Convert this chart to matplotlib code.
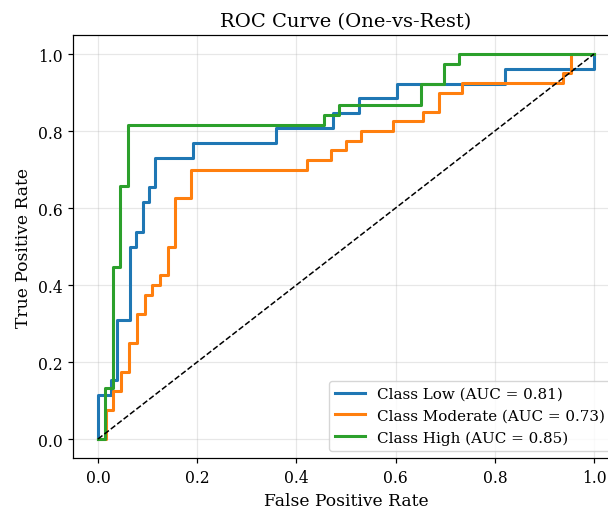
import numpy as np
import matplotlib
matplotlib.use('Agg')
from matplotlib import pyplot as plt

plt.rcParams['font.family'] = 'DejaVu Serif'

# ROC points (top of each step)
fpr_low = [0, 0, 0.026, 0.038, 0.064, 0.077, 0.090, 0.103, 0.115, 0.192, 0.359,
           0.474, 0.526, 0.603, 0.821, 1.0]
tpr_low = [0, 0.115, 0.154, 0.308, 0.500, 0.538, 0.615, 0.654, 0.731, 0.769, 0.808,
           0.846, 0.885, 0.923, 0.962, 1.0]

fpr_mod = [0, 0.016, 0.031, 0.047, 0.0625, 0.078, 0.094, 0.109, 0.125, 0.141, 0.156,
           0.1875, 0.422, 0.469, 0.5, 0.531, 0.594, 0.656, 0.6875, 0.734, 0.9375,
           0.953, 1.0]
tpr_mod = [0, 0.075, 0.125, 0.175, 0.25, 0.325, 0.375, 0.4, 0.425, 0.5, 0.625,
           0.7, 0.725, 0.75, 0.775, 0.8, 0.825, 0.85, 0.9, 0.925, 0.95,
           1.0, 1.0]

fpr_high = [0, 0.015, 0.030, 0.045, 0.061, 0.455, 0.485, 0.652, 0.697, 0.727, 1.0]
tpr_high = [0, 0.132, 0.447, 0.658, 0.816, 0.842, 0.868, 0.921, 0.974, 1.0, 1.0]

classes = ['Low', 'Moderate', 'High']
aucs = [0.81, 0.73, 0.85]
colors = ['#1f77b4', '#ff7f0e', '#2ca02c']

curves = [(fpr_low, tpr_low), (fpr_mod, tpr_mod), (fpr_high, tpr_high)]

s = 1.1  # original looks rendered a bit larger than 100 dpi
plt.rcParams['axes.linewidth'] = 0.8 * s
plt.rcParams['xtick.major.width'] = 0.8 * s
plt.rcParams['ytick.major.width'] = 0.8 * s
plt.rcParams['xtick.major.size'] = 3.5 * s
plt.rcParams['ytick.major.size'] = 3.5 * s

fig = plt.figure(figsize=(6.08, 5.10), dpi=100)
ax = fig.add_axes([0.1204, 0.0995, 0.8974, 0.8304])

for (f, t), name, auc, c in zip(curves, classes, aucs, colors):
    ax.plot(f, t, drawstyle='steps-post', color=c, lw=2 * s,
            label=f'Class {name} (AUC = {auc:.2f})')

ax.plot([0, 1], [0, 1], 'k--', lw=1 * s)
ax.set_xlim(-0.05, 1.05)
ax.set_ylim(-0.05, 1.05)
ax.set_xlabel('False Positive Rate', fontsize=12.3)
ax.set_ylabel('True Positive Rate', fontsize=12.3)
ax.set_title('ROC Curve (One-vs-Rest)', fontsize=14, pad=6.6)
ax.tick_params(labelsize=11.2, pad=3.85)
ax.legend(loc='lower right', fontsize=10.9)
ax.grid(alpha=0.3, lw=0.8 * s)

fig.savefig('out.png', dpi=100)
